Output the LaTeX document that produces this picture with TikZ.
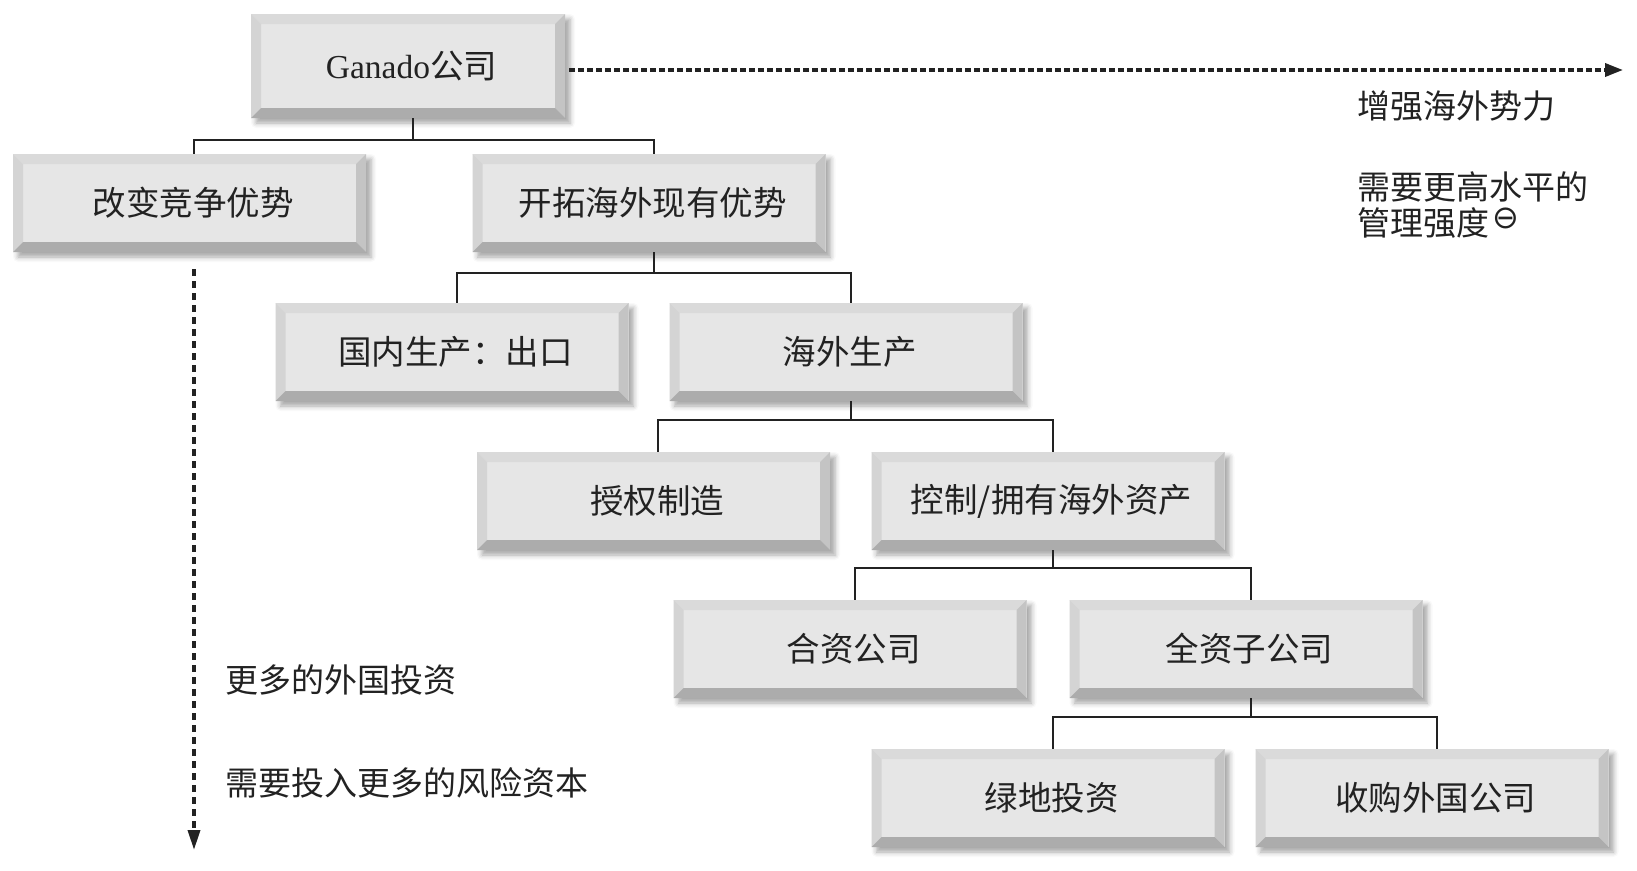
\documentclass[tikz,border=0pt]{standalone}
\usepackage{fontspec}
\setmainfont{Liberation Serif}
\newfontfamily\cjk{Noto Sans CJK SC}
\newfontfamily\symf{DejaVu Sans}
\usetikzlibrary{arrows.meta,shadows.blur}
\definecolor{face}{HTML}{E6E6E6}
\definecolor{bvtop}{HTML}{DADADA}
\definecolor{bvleft}{HTML}{D4D4D4}
\definecolor{bvright}{HTML}{C4C4C4}
\definecolor{bvbot}{HTML}{ACACAC}
\definecolor{txt}{HTML}{222222}
\newcommand\mytreeconn[4]{%
  \draw[conn] ([xshift=4.5pt]#1.south) -- ++(0,#4);
  \draw[conn] ([xshift=4.5pt]#2.north) |- ([xshift=4.5pt,yshift=-#4pt]#1.south) -| ([xshift=4.5pt]#3.north);
}
\tikzset{
  bevelbox/.style={rectangle, draw=none, fill=face, inner sep=0pt,
    minimum width=353pt, minimum height=98pt, text=txt,
    font=\cjk\fontsize{33.5}{38}\selectfont,
    execute at begin node=\hspace*{7pt},
    blur shadow={shadow xshift=5pt, shadow yshift=-5pt, shadow blur radius=5pt, shadow opacity=35},
    path picture={
      \fill[bvtop] (path picture bounding box.north west) -- (path picture bounding box.north east)
        -- ([xshift=-10pt,yshift=-10pt]path picture bounding box.north east)
        -- ([xshift=10pt,yshift=-10pt]path picture bounding box.north west) -- cycle;
      \fill[bvleft] (path picture bounding box.north west) -- (path picture bounding box.south west)
        -- ([xshift=10pt,yshift=10pt]path picture bounding box.south west)
        -- ([xshift=10pt,yshift=-10pt]path picture bounding box.north west) -- cycle;
      \fill[bvright] (path picture bounding box.north east) -- (path picture bounding box.south east)
        -- ([xshift=-10pt,yshift=10pt]path picture bounding box.south east)
        -- ([xshift=-10pt,yshift=-10pt]path picture bounding box.north east) -- cycle;
      \fill[bvbot] (path picture bounding box.south west) -- (path picture bounding box.south east)
        -- ([xshift=-10pt,yshift=10pt]path picture bounding box.south east)
        -- ([xshift=10pt,yshift=10pt]path picture bounding box.south west) -- cycle;
    }},
  conn/.style={draw=txt, line width=2pt},
  hdots/.style={draw=txt, line width=3.5pt, dash pattern=on 5.5pt off 3.5pt, -{Triangle[width=13pt,length=18pt]}},
  vdots/.style={draw=txt, line width=3.5pt, dash pattern=on 6.5pt off 5.5pt, -{Triangle[width=12pt,length=20pt]}},
  lbl/.style={text=txt, font=\cjk\fontsize{33}{36}\selectfont, inner sep=0pt},
}
\begin{document}
\begin{tikzpicture}[x=1pt,y=-1pt]
\useasboundingbox (0,0) rectangle (1637,870);
\node[bevelbox, minimum width=314pt, minimum height=104pt] (G) at (408,66) {\rmfamily Ganado\cjk 公司};
\node[bevelbox] (A) at (189.5,203) {改变竞争优势};
\node[bevelbox] (B) at (649,203) {开拓海外现有优势};
\node[bevelbox] (C) at (452,352) {国内生产：出口};
\node[bevelbox] (D) at (846,352) {海外生产};
\node[bevelbox] (E) at (653.5,501) {授权制造};
\node[bevelbox] (F) at (1048,501) {控制/拥有海外资产};
\node[bevelbox] (H) at (850,649) {合资公司};
\node[bevelbox] (I) at (1246,649) {全资子公司};
\node[bevelbox] (J) at (1048,798) {绿地投资};
\node[bevelbox] (K) at (1432,798) {收购外国公司};

\mytreeconn{G}{A}{B}{22}
\mytreeconn{B}{C}{D}{21}
\mytreeconn{D}{E}{F}{19}
\mytreeconn{F}{H}{I}{18}
\mytreeconn{I}{J}{K}{19}

\coordinate (hend) at (1623,70);
\coordinate (vend) at (194,850);
\draw[hdots] ([xshift=4pt,yshift=-4pt]G.east) -- (hend);
\draw[vdots] ([xshift=4.5pt,yshift=-17pt]A.south) -- (vend);

\node[lbl, anchor=west] (t1) at (1357,106) {增强海外势力};
\node[lbl, anchor=west, align=left] (t2) at (1357,205) {需要更高水平的\\管理强度\hspace{3pt}\raisebox{7pt}{\symf\fontsize{32}{32}\selectfont ⊖}};
\node[lbl, anchor=west] (t3) at (225,680) {更多的外国投资};
\node[lbl, anchor=west] (t4) at (225,783) {需要投入更多的风险资本};
\end{tikzpicture}
\end{document}
